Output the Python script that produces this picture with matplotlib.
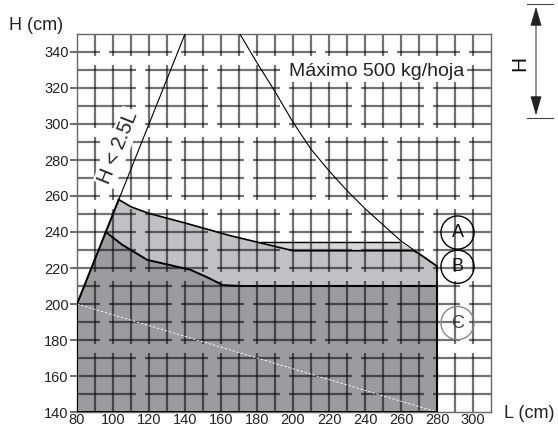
import numpy as np
import matplotlib.pyplot as plt
from matplotlib.collections import LineCollection
from matplotlib.patches import Circle, FancyArrowPatch
from matplotlib.lines import Line2D

plt.rcParams['font.family'] = ['Liberation Sans', 'DejaVu Sans']

#====================1======================
#               data (cm)
#===========================================
x_ticks = np.arange(80, 301, 20)
y_ticks = np.arange(140, 341, 20)

# H < 2.5L limit line
lim_L = [80, 140]
lim_H = [200, 350]

# maximum 500 kg/hoja curve
max_L = [170.5, 180, 190, 200, 210, 220, 230, 240, 250, 260, 270, 280]
max_H = [350, 334, 318, 301, 286, 274, 263, 253, 244, 235, 228, 221]

# top of zone C (dark)
c_L = [96, 105, 119, 130, 143, 152, 161, 170, 280]
c_H = [240, 233, 224.5, 222, 219, 215, 210.5, 210, 210]

# top of zone B (light)
b_L = [96, 103.2, 110, 119.4, 140, 165, 200, 267, 270, 280, 280]
b_H = [240, 258, 254, 250.5, 245, 238, 229.6, 229.6, 228, 221, 210]

# top of zone A (thin strip)
a_L = [182, 259]
a_H = [234.6, 234.6]

# white dashed diagonal
d_L = [80, 280]
d_H = [200, 140]

circle_lbl = ['A', 'B', 'C']
circle_H = [239.7, 220.7, 189.4]
circle_L = 291.4

#====================2======================
#          figure
#===========================================
fig = plt.figure(figsize=(5.58, 4.30), dpi=100)
ax = fig.add_axes([77/558, 18/430, 414/558, 378/430])
ax.set_xlim(80, 310)
ax.set_ylim(140, 350)

# zone fills
cx = [80] + c_L + [280, 80]
cy = [200] + c_H + [140, 140]
bx = b_L + c_L[::-1]
by = b_H + c_H[::-1]
ax.fill(bx, by, color='#c1c1c3', lw=0, zorder=1)
ax.fill(cx, cy, color='#9c9c9e', lw=0, zorder=1)
# strip A
sx = [182, 259, 267, 200]
sy = [234.6, 234.6, 229.6, 229.6]
ax.fill(sx, sy, color='#d6d6d8', lw=0, zorder=1)

# background block grid
segs = []
ov = 2.5
for j, ys in enumerate(range(140, 350, 40)):
    off = 20 * (j % 2)
    for x in range(90, 310, 10):
        segs.append([(x, max(ys - ov, 140)), (x, min(ys + 30 + ov, 350))])
    for y in range(ys, min(ys + 31, 350), 10):
        if y == 140:
            continue
        for xs in range(80 - 40 + off, 310, 40):
            x0, x1 = max(xs - ov, 80), min(xs + 30 + ov, 310)
            if x1 > x0:
                segs.append([(x0, y), (x1, y)])
ax.add_collection(LineCollection(segs, colors='k', alpha=0.55, lw=1.6,
                                 capstyle='butt', zorder=2))

# zone outlines
ax.plot(d_L, d_H, color='white', lw=0.6, ls=(0, (3, 2)), zorder=3)
ax.plot(c_L, c_H, 'k', lw=1.4, zorder=6)
ax.plot(b_L[1:], b_H[1:], 'k', lw=1.2, zorder=6)
ax.plot(a_L, a_H, 'k', lw=1.0, zorder=6)
ax.plot([80, 80, 280, 280], [200, 140, 140, 210], 'k', lw=1.4, zorder=6)
ax.plot([80, 103.2], [200, 258], 'k', lw=1.4, zorder=6)
ax.plot(lim_L, lim_H, 'k', lw=0.8, zorder=6)
ax.plot(max_L, max_H, 'k', lw=0.8, zorder=6)

# texts
bb = dict(boxstyle='square,pad=0.1', fc='white', ec='none')
ax.text(246.7, 329, 'Máximo 500 kg/hoja', fontsize=14, ha='center',
        va='center', color='#222222', bbox=bb, zorder=5)
ax.text(103, 287, 'H < 2.5L', fontsize=14.5, ha='center', va='center',
        rotation=68, color='#222222', bbox=bb, zorder=5)
for lbl, h in zip(circle_lbl, circle_H):
    col = '#888888' if lbl == 'C' else 'k'
    ax.add_patch(Circle((circle_L, h), 9.2, fc='none', ec=col, lw=1.0,
                        zorder=5))
    ax.text(circle_L, h, lbl, fontsize=13, ha='center', va='center',
            color='#444444' if lbl == 'C' else '#111111', zorder=5)

# axes styling
for s in ax.spines.values():
    s.set_color('#666666')
    s.set_linewidth(1.0)
ax.set_xticks(x_ticks)
ax.set_yticks(y_ticks)
ax.tick_params(axis='x', length=0, pad=1, labelsize=10.5, labelcolor='#222222')
ax.tick_params(axis='y', length=5, width=1.2, color='#555555', pad=1,
               labelsize=10.5, labelcolor='#222222')

fig.text(36/558, 1 - 25/430, 'H (cm)', fontsize=13, ha='center',
         va='center', color='#222222')
fig.text(529/558, 1 - 414/430, 'L (cm)', fontsize=13, ha='center',
         va='center', color='#222222')

# H dimension arrow on the right
for py in (4, 118):
    fig.add_artist(Line2D([527/558, 553/558], [1 - py/430, 1 - py/430],
                          color='#444444', lw=0.8))
fig.add_artist(FancyArrowPatch((536/558, 1 - 4/430), (536/558, 1 - 118/430),
                               transform=fig.transFigure,
                               arrowstyle='<|-|>,head_length=12,head_width=3.5',
                               color='#222222', lw=0.7))
fig.text(520/558, 1 - 63/430, 'H', fontsize=15, rotation=90, ha='center',
         va='center', color='#111111')

fig.savefig('out.png', dpi=100)
